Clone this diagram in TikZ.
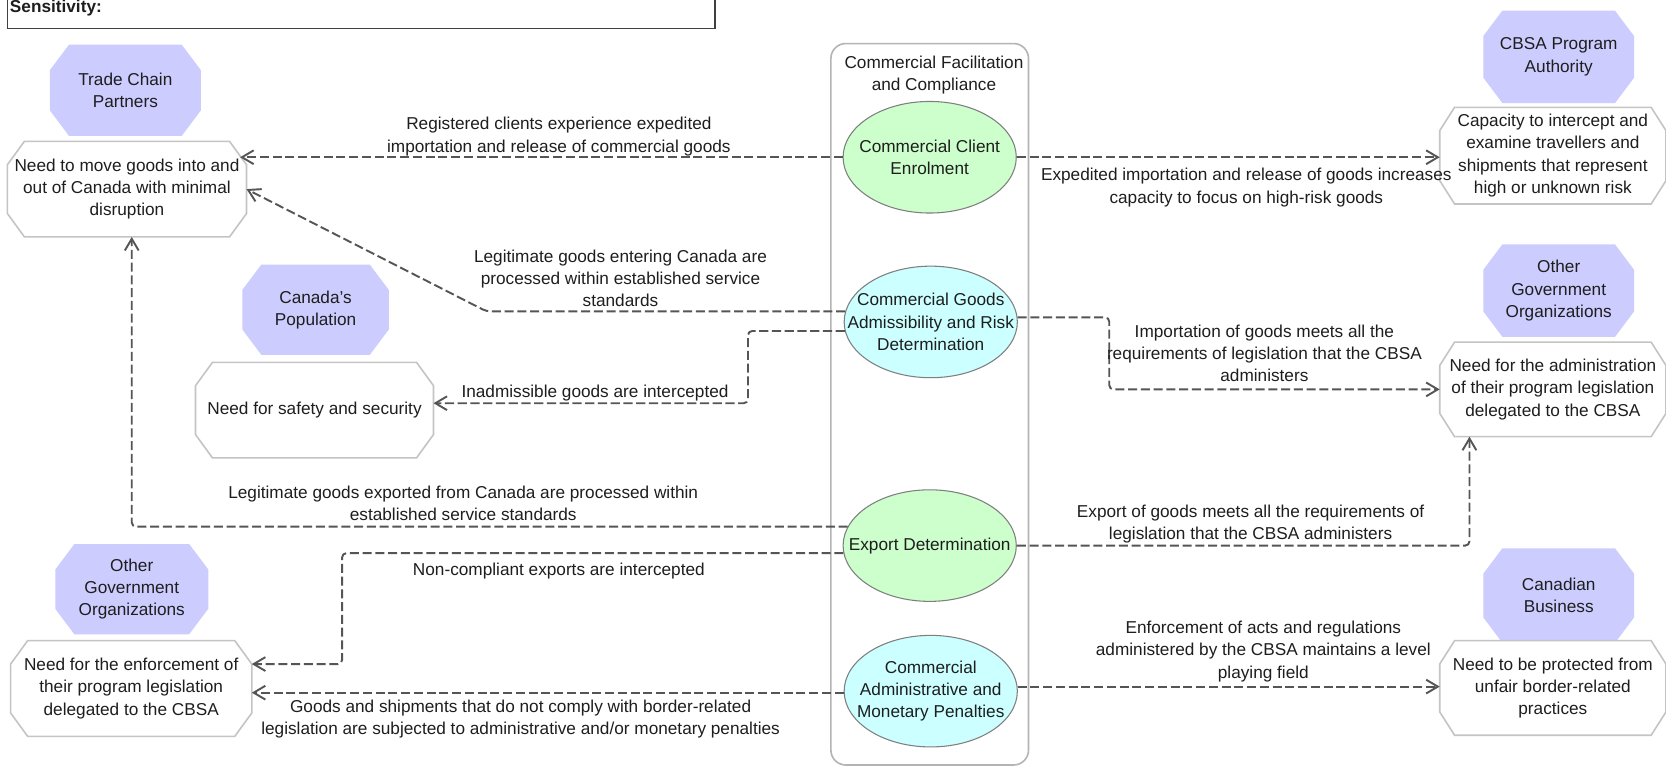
\documentclass[tikz,border=0pt]{standalone}
\usepackage{fontspec}
\setmainfont{Liberation Sans}
\usetikzlibrary{shapes.geometric,arrows.meta,calc}
\definecolor{lavc}{HTML}{CCCCFF}
\definecolor{greenc}{HTML}{CCFFCC}
\definecolor{cyanc}{HTML}{CCFFFF}
\definecolor{boxc}{HTML}{C4C4C4}
\definecolor{contc}{HTML}{B4B4B4}
\definecolor{connc}{HTML}{555555}
\definecolor{ellc}{HTML}{7F7F7F}
\definecolor{txtc}{HTML}{1E1E1E}
\newcommand{\fs}{\fontsize{8.1pt}{10.5pt}\selectfont}
% #1 style, #2 name, #3 cx, #4 cy, #5 half width, #6 half height, #7 cut x, #8 cut y, #9 text
\newcommand{\octbox}[9]{%
  \path[#1] ({#3-#5+#7},{#4-#6}) -- ({#3+#5-#7},{#4-#6}) -- ({#3+#5},{#4-#6+#8}) -- ({#3+#5},{#4+#6-#8}) -- ({#3+#5-#7},{#4+#6}) -- ({#3-#5+#7},{#4+#6}) -- ({#3-#5},{#4+#6-#8}) -- ({#3-#5},{#4-#6+#8}) -- cycle;
  \node[txt, minimum width={#5*1pt}, minimum height={#6*1pt}] (#2) at (#3,#4) {#9};
}
\tikzset{
  txt/.style={font=\fs, text=txtc, align=center, inner sep=0pt, outer sep=0pt},
  lav/.style={fill=lavc, draw=none},
  wbox/.style={fill=white, draw=boxc, line width=0.75pt},
  ell/.style={ellipse, draw=ellc, line width=0.5pt, minimum width=81.5pt, minimum height=52.5pt, inner sep=0pt},
  conn/.style={draw=connc, line width=0.9pt, dash pattern=on 4.25pt off 1.75pt, rounded corners=2pt, -{Straight Barb[length=5.5pt,width=6.5pt]}},
}
\begin{document}
\begin{tikzpicture}[x=0.5pt,y=-0.5pt]
\useasboundingbox (0,0) rectangle (1568,721);
\clip (0,0) rectangle (1568,721);
\fill[white] (0,0) rectangle (1568,721);

% sensitivity header
\node[draw=black!75, line width=0.75pt, minimum width=333pt, minimum height=23.5pt, inner sep=0pt] (sens) at (340,3.5) {};
\node[font=\fs\bfseries, text=txtc, anchor=west, inner sep=0pt] (senstxt) at (9,8) {Sensitivity:};

% container
\node[draw=contc, line width=0.75pt, rounded corners=7pt, minimum width=93pt, minimum height=339.5pt, inner sep=0pt] (cont) at (875,380.5) {};
\node[txt] (conttitle) at (879,70.5) {Commercial Facilitation\\and Compliance};

% left stakeholders
\octbox{lav}{tcp}{118}{85}{71}{43}{18}{24}{Trade Chain\\Partners}
\octbox{wbox}{need1}{119.5}{178}{112.5}{45}{16}{22}{Need to move goods into and\\out of Canada with minimal\\disruption}
\octbox{lav}{cpop}{297}{291.5}{69}{42.5}{18}{24}{Canada's\\Population}
\octbox{wbox}{nss}{296}{386}{112}{45}{16}{22}{Need for safety and security}
\octbox{lav}{ogo1}{124}{554.5}{72}{42.5}{18}{24}{Other\\Government\\Organizations}
\octbox{wbox}{nenf}{123.5}{648}{113.5}{45}{16}{22}{Need for the enforcement of\\their program legislation\\delegated to the CBSA}

% right stakeholders
\octbox{lav}{cbsa}{1467}{53.5}{71}{43.5}{18}{24}{CBSA Program\\Authority}
\octbox{wbox}{cap}{1461.5}{146.5}{106.5}{45.5}{14}{22}{Capacity to intercept and\\examine travellers and\\shipments that represent\\high or unknown risk}
\octbox{lav}{ogo2}{1467}{273.5}{71}{43.5}{18}{24}{Other\\Government\\Organizations}
\octbox{wbox}{nadm}{1461.5}{366.5}{106.5}{44.5}{14}{22}{Need for the administration\\of their program legislation\\delegated to the CBSA}
\octbox{lav}{cbus}{1467}{560.5}{71}{44.5}{18}{24}{Canadian\\Business}
\octbox{wbox}{nprot}{1461.5}{647.5}{106.5}{44.5}{14}{22}{Need to be protected from\\unfair border-related\\practices}

% programs
\node[ell, fill=greenc] (A) at (875,148) {};
\node[txt] (At) at (A) {Commercial Client\\Enrolment};
\node[ell, fill=cyanc] (B) at (876,303) {};
\node[txt] (Bt) at (B) {Commercial Goods\\Admissibility and Risk\\Determination};
\node[ell, fill=greenc] (C) at (875,513.5) {};
\node[txt] (Ct) at (C) {Export Determination};
\node[ell, fill=cyanc] (D) at (876,650.5) {};
\node[txt] (Dt) at (D) {Commercial\\Administrative and\\Monetary Penalties};

% helper coordinates
\coordinate (k3) at (458,0);
\coordinate (k4) at (704,0);
\coordinate (k5) at (1044,0);
\coordinate (k7) at (322,0);
\coordinate (e4) at ($(nss.east)+(0,-6.5)$);
\coordinate (e6) at ($(need1.south)+(4.5,0)$);
\coordinate (e7) at ($(nenf.east)+(0,-23)$);
\coordinate (e8) at ($(nadm.south west)+(28,0)$);

% connectors
\draw[conn] (A.west) -- ($(A.west -| need1.east)+(-6,0)$);
\draw[conn] (A.east) -- (A.east -| cap.west);
\draw[conn] (B.173) -- (B.173 -| k3) -- (need1.east);
\draw[conn] (B.186) -- (B.186 -| k4) -- (k4 |- e4) -- (e4);
\draw[conn] (B.3) -- (B.3 -| k5) -- (k5 |- nadm.west) -- (nadm.west);
\draw[conn] (C.167) -| (e6);
\draw[conn] (C.185) -- (C.185 -| k7) -- (k7 |- e7) -- (e7);
\draw[conn] (C.east) -- (C.east -| e8) -- (e8);
\draw[conn] (D.181) -- (D.181 -| nenf.east);
\draw[conn] (D.3) -- (D.3 -| nprot.west);

% labels
\node[txt] (l1) at (526,128.5) {Registered clients experience expedited\\importation and release of commercial goods};
\node[txt] (l2) at (1173,176.5) {Expedited importation and release of goods increases\\capacity to focus on high-risk goods};
\node[txt] (l3) at (584,262) {Legitimate goods entering Canada are\\processed within established service\\standards};
\node[txt] (l4) at (560,370) {Inadmissible goods are intercepted};
\node[txt] (l5) at (1190,332.5) {Importation of goods meets all the\\requirements of legislation that the CBSA\\administers};
\node[txt] (l6) at (436,474) {Legitimate goods exported from Canada are processed within\\established service standards};
\node[txt] (l7) at (526,537) {Non-compliant exports are intercepted};
\node[txt] (l8) at (1177,493.5) {Export of goods meets all the requirements of\\legislation that the CBSA administers};
\node[txt] (l9) at (490,676.5) {Goods and shipments that do not comply with border-related\\legislation are subjected to administrative and/or monetary penalties};
\node[txt] (l10) at (1189,613) {Enforcement of acts and regulations\\administered by the CBSA maintains a level\\playing field};
\end{tikzpicture}
\end{document}
